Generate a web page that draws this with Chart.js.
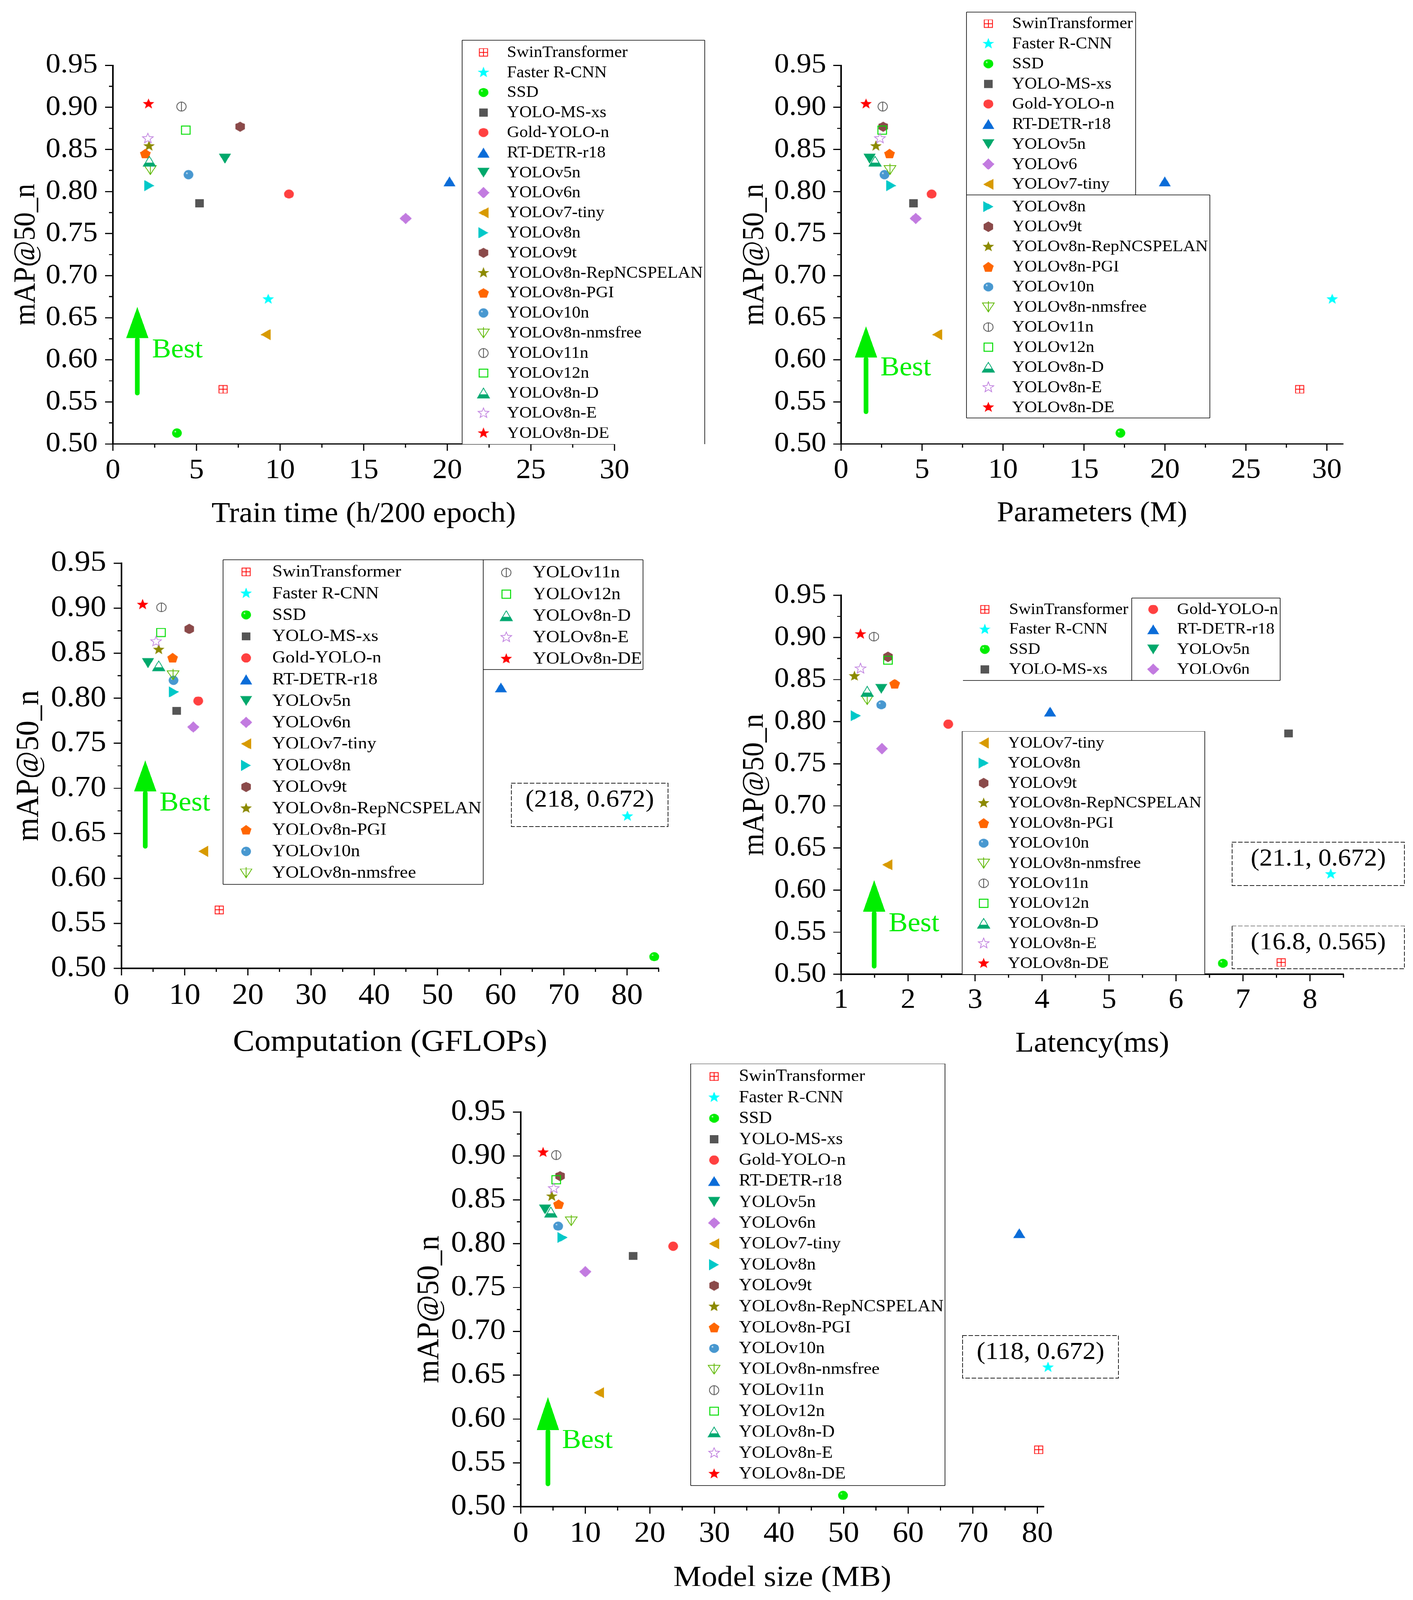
<!DOCTYPE html>
<html><head><meta charset="utf-8">
<script src="https://cdn.jsdelivr.net/npm/chart.js@4.4.1/dist/chart.umd.min.js"></script>
<style>
html,body{margin:0;padding:0;background:#fff;}
html{overflow:hidden;}
body{width:3617px;height:4375px;position:relative;overflow:hidden;transform-origin:0 0;}
canvas{position:absolute;}
</style></head><body>
<canvas id="c1"></canvas><canvas id="c2"></canvas><canvas id="c3"></canvas><canvas id="c4"></canvas><canvas id="c5"></canvas>
<script>
// fit the full 3617x4375 figure into the actual viewport height if the window is shorter
(function(){ const s = Math.min(1, (window.innerHeight || 4375) / 4375); if (s < 1) document.body.style.transform = 'scaleY(' + s + ')'; })();

// ---------------- DATA ----------------
const models = ['SwinTransformer','Faster R-CNN','SSD','YOLO-MS-xs','Gold-YOLO-n','RT-DETR-r18','YOLOv5n','YOLOv6n','YOLOv7-tiny','YOLOv8n','YOLOv9t','YOLOv8n-RepNCSPELAN','YOLOv8n-PGI','YOLOv10n','YOLOv8n-nmsfree','YOLOv11n','YOLOv12n','YOLOv8n-D','YOLOv8n-E','YOLOv8n-DE'];

const xTrainTime  = [6.59, 9.29, 3.83, 5.18, 10.53, 20.13, 6.70, 17.51, 9.13, 2.18, 7.61, 2.16, 1.94, 4.52, 2.24, 4.10, 4.36, 2.18, 2.09, 2.13];
const yTrainTime  = [0.565, 0.672, 0.513, 0.786, 0.797, 0.812, 0.839, 0.768, 0.630, 0.807, 0.877, 0.854, 0.845, 0.820, 0.826, 0.901, 0.873, 0.836, 0.863, 0.904];

const xParams     = [28.32, 30.33, 17.25, 4.47, 5.59, 19.99, 1.76, 4.61, 5.93, 3.10, 2.60, 2.15, 2.99, 2.68, 3.02, 2.57, 2.54, 2.10, 2.40, 1.54];
const yParams     = [0.565, 0.672, 0.513, 0.786, 0.797, 0.812, 0.839, 0.768, 0.630, 0.807, 0.877, 0.854, 0.845, 0.820, 0.826, 0.901, 0.873, 0.836, 0.863, 0.904];

const xGflops     = [15.47, 80.06, 84.30, 8.73, 12.14, 60.04, 4.19, 11.36, 12.92, 8.30, 10.72, 5.89, 8.09, 8.23, 8.16, 6.32, 6.25, 5.89, 5.47, 3.34];
const yGflops     = [0.565, 0.669, 0.513, 0.786, 0.797, 0.812, 0.839, 0.768, 0.630, 0.807, 0.877, 0.854, 0.845, 0.820, 0.826, 0.901, 0.873, 0.836, 0.863, 0.904];

const xLatency    = [7.57, 8.31, 6.70, 7.68, 2.60, 4.12, 1.60, 1.61, 1.69, 1.22, 1.70, 1.20, 1.80, 1.60, 1.39, 1.49, 1.70, 1.39, 1.29, 1.29];
const yLatency    = [0.514, 0.619, 0.513, 0.786, 0.797, 0.812, 0.839, 0.768, 0.630, 0.807, 0.877, 0.854, 0.845, 0.820, 0.826, 0.901, 0.873, 0.836, 0.863, 0.904];

const xModelSize  = [80.2, 81.65, 49.9, 17.4, 23.6, 77.2, 3.76, 10.0, 12.1, 6.47, 6.09, 4.81, 5.86, 5.79, 7.82, 5.49, 5.49, 4.66, 5.11, 3.46];
const yModelSize  = [0.565, 0.659, 0.513, 0.786, 0.797, 0.812, 0.839, 0.768, 0.630, 0.807, 0.877, 0.854, 0.845, 0.820, 0.826, 0.901, 0.873, 0.836, 0.863, 0.904];

const yTicks        = [0.50, 0.55, 0.60, 0.65, 0.70, 0.75, 0.80, 0.85, 0.90, 0.95];
const xTicksTrain   = [0, 5, 10, 15, 20, 25, 30];
const xTicksParams  = [0, 5, 10, 15, 20, 25, 30];
const xTicksGflops  = [0, 10, 20, 30, 40, 50, 60, 70, 80];
const xTicksLatency = [1, 2, 3, 4, 5, 6, 7, 8];
const xTicksSize    = [0, 10, 20, 30, 40, 50, 60, 70, 80];

const offScaleNotes3 = ['(218, 0.672)'];
const offScaleNotes4 = ['(21.1, 0.672)', '(16.8, 0.565)'];
const offScaleNotes5 = ['(118, 0.672)'];

// ---------------- STYLE ----------------
const FONT = "'Liberation Serif','Times New Roman',serif";
const colors = ['#ff0000','#00ffff','#00ee00','#555555','#ff4040','#0a6cd8','#00a86b','#c27be0','#d89a00','#00c8c8','#8b4a4a','#8c8a00','#ff6600','#4898d0','#5cb800','#505050','#00dd00','#00a870','#bb77dd','#ff0000'];
const shapes = ['sqcross','star','sphere','square','circle','triUp','triDown','diamond','triLeft','triRight','hex','star','pent','sphere','triDownLine','circleLine','squareOpen','triHalf','starOpen','star'];

function starPts(R, r){ const p=[]; for(let k=0;k<10;k++){const a=-Math.PI/2+k*Math.PI/5; const rr=(k%2)?r:R; p.push([rr*Math.cos(a), rr*Math.sin(a)]);} return p; }
function regPts(n, R){ const p=[]; for(let k=0;k<n;k++){const a=-Math.PI/2+k*2*Math.PI/n; p.push([R*Math.cos(a), R*Math.sin(a)]);} return p; }
function path(g, pts){ g.beginPath(); pts.forEach((p,i)=> i? g.lineTo(p[0],p[1]) : g.moveTo(p[0],p[1])); g.closePath(); }

function makeMarker(shape, color){
  const S=44; const c=document.createElement('canvas'); c.width=S; c.height=S;
  const g=c.getContext('2d'); g.translate(S/2,S/2);
  g.fillStyle=color; g.strokeStyle=color; g.lineJoin='miter';
  switch(shape){
    case 'sqcross': g.lineWidth=2; g.strokeRect(-10.5,-10.5,21,21); g.beginPath(); g.moveTo(0,-10.5); g.lineTo(0,10.5); g.moveTo(-10.5,0); g.lineTo(10.5,0); g.stroke(); break;
    case 'star': path(g, starPts(15.5,6.6)); g.fill(); break;
    case 'starOpen': g.lineWidth=1.8; path(g, starPts(14.5,6.2)); g.stroke(); break;
    case 'sphere': {
      const gr=g.createRadialGradient(-4.5,-4.5,0,-2,-2,14);
      gr.addColorStop(0,'#ffffff'); gr.addColorStop(0.22,color); gr.addColorStop(1,color);
      g.fillStyle=gr; g.beginPath(); g.arc(0,0,12.5,0,Math.PI*2); g.fill(); break; }
    case 'square': g.fillRect(-11,-11,22,22); break;
    case 'squareOpen': g.lineWidth=2.5; g.strokeRect(-11,-11,22,22); break;
    case 'circle': g.beginPath(); g.arc(0,0,12.5,0,Math.PI*2); g.fill(); break;
    case 'circleLine': g.lineWidth=2; g.beginPath(); g.arc(0,0,12,0,Math.PI*2); g.stroke(); g.beginPath(); g.moveTo(0,-12); g.lineTo(0,12); g.stroke(); break;
    case 'triUp': path(g, [[0,-13.5],[15.5,13.5],[-15.5,13.5]]); g.fill(); break;
    case 'triDown': path(g, [[-15.5,-13.5],[15.5,-13.5],[0,13.5]]); g.fill(); break;
    case 'triLeft': path(g, [[-13,0],[13,-15],[13,15]]); g.fill(); break;
    case 'triRight': path(g, [[13,0],[-13,-15],[-13,15]]); g.fill(); break;
    case 'diamond': path(g, [[0,-15.5],[15.5,0],[0,15.5],[-15.5,0]]); g.fill(); break;
    case 'hex': path(g, regPts(6,14)); g.fill(); break;
    case 'pent': g.translate(0,1.3); path(g, regPts(5,14.5)); g.fill(); break;
    case 'triDownLine': g.lineWidth=2; path(g, [[-15,-11],[15,-11],[0,13]]); g.stroke(); g.beginPath(); g.moveTo(0,-16); g.lineTo(0,13); g.stroke(); break;
    case 'triHalf': {
      const pts=[[0,-13.5],[15.5,13.5],[-15.5,13.5]];
      g.save(); path(g,pts); g.clip(); g.fillRect(-17,3.5,34,11); g.restore();
      g.lineWidth=2; path(g,pts); g.stroke(); break; }
  }
  return c;
}
const markers = shapes.map((s,i)=>makeMarker(s, colors[i]));

function rng(a,b){ const r=[]; for(let i=a;i<=b;i++) r.push(i); return r; }

// ---------------- LAYOUT SPECS (page pixels) ----------------
const specs = [
 { id:'c1', rect:{x:0,y:0,w:1815,h:1460}, area:{l:289,t:178.5,r:1573,b:1214},
   xmin:0, xmax:30, xs:xTrainTime, ys:yTrainTime, xTicks:xTicksTrain, step:5,
   tickSize:76, titleSize:78, xTitle:'Train time (h/200 epoch)', yTitleMid:67.7, xTitleMid:1406.7, yLabPad:39, xLabOff:73,
   best:{x:1.46,y0:0.5603,y1:0.6627,yb:0.6258,tx:2.34,ty:0.603},
   legend:{font:44, boxes:[{l:1183,t:110,r:1804,b:1214,sides:'tlr'}], cols:[{items:rng(0,19),y0:143.3,dy:54.8,mx:1237.6,tx:1297.8}]},
   notes:[] },
 { id:'c2', rect:{x:1815,y:0,w:1802,h:1460}, area:{l:2153,t:178.5,r:3438,b:1214},
   xmin:0, xmax:31, xs:xParams, ys:yParams, xTicks:xTicksParams, step:5,
   tickSize:76, titleSize:78, xTitle:'Parameters (M)', yTitleMid:1933, xTitleMid:1405, yLabPad:38, xLabOff:72.5,
   best:{x:1.54,y0:0.5382,y1:0.6398,yb:0.6029,tx:2.43,ty:0.5816},
   legend:{font:44, names:{7:'YOLOv6'}, boxes:[{l:2474,t:33,r:2907,b:533,sides:'tlr'},{l:2474,t:533,r:3097,b:1143,sides:'tlrb'}],
           cols:[{items:rng(0,8),y0:64.7,dy:54.9,mx:2530,tx:2591},{items:rng(9,19),y0:565,dy:54.9,mx:2530,tx:2591}]},
   notes:[] },
 { id:'c3', rect:{x:0,y:1460,w:1800,h:1450}, area:{l:311,t:1540,r:1686,b:2648},
   xmin:0, xmax:85, xs:xGflops, ys:yGflops, xTicks:xTicksGflops, step:10,
   tickSize:81, titleSize:83, xTitle:'Computation (GFLOPs)', yTitleMid:75, xTitleMid:2851, yLabPad:39, xLabOff:75.5,
   best:{x:3.76,y0:0.6354,y1:0.731,yb:0.6966,tx:6.03,ty:0.6756},
   legend:{font:47, boxes:[{l:571,t:1531,r:1237,b:2418,sides:'tlrb'},{l:1237,t:1531,r:1646,b:1831,sides:'tlrb'}],
           cols:[{items:rng(0,14),y0:1563.7,dy:58.8,mx:630,tx:697},{items:rng(15,19),y0:1565.6,dy:59,mx:1296,tx:1364}]},
   notes:[{l:1309,t:2142,r:1710,b:2260,text:offScaleNotes3[0]}] },
 { id:'c4', rect:{x:1800,y:1460,w:1817,h:1450}, area:{l:2153,t:1628,r:3439,b:2664},
   xmin:1, xmax:8.5, xs:xLatency, ys:yLatency, xTicks:xTicksLatency, step:1,
   tickSize:76, titleSize:78, xTitle:'Latency(ms)', yTitleMid:1933, xTitleMid:2855, yLabPad:38, xLabOff:72,
   best:{x:1.494,y0:0.5093,y1:0.6117,yb:0.5743,tx:1.71,ty:0.5514},
   legend:{font:43.5, boxes:[{l:2465,t:1635,r:3277,b:1861,sides:''},{l:2463,t:2000,r:3084,b:2664,sides:'tlr'}],
           lines:[[2465,1861,3277,1861],[2897,1635,2897,1861],[2897,1635,3277,1635],[3277,1635,3277,1861]],
           cols:[{items:rng(0,3),y0:1666.4,dy:54.6,mx:2521,tx:2583},{items:rng(4,7),y0:1666.4,dy:54.6,mx:2952,tx:3013},{items:rng(8,19),y0:2031.6,dy:54.8,mx:2518,tx:2580}]},
   notes:[{l:3154,t:2303,r:3595,b:2421,text:offScaleNotes4[0]},{l:3154,t:2532,r:3595,b:2649,text:offScaleNotes4[1]}] },
 { id:'c5', rect:{x:950,y:2880,w:1950,h:1495}, area:{l:1333,t:3041,r:2672,b:4120},
   xmin:0, xmax:81, xs:xModelSize, ys:yModelSize, xTicks:xTicksSize, step:10,
   tickSize:80, titleSize:81, xTitle:'Model size (MB)', yTitleMid:1100.7, xTitleMid:4315.7, yLabPad:38.5, xLabOff:75,
   best:{x:4.21,y0:0.526,y1:0.625,yb:0.5876,tx:6.39,ty:0.5673},
   legend:{font:46, boxes:[{l:1768,t:2909,r:2419,b:4062,sides:'tlrb'}], cols:[{items:rng(0,19),y0:2943.4,dy:57.2,mx:1828,tx:1891.5}]},
   notes:[{l:2464,t:3652,r:2863,b:3768,text:offScaleNotes5[0]}] }
];

// ---------------- DECOR PLUGIN ----------------
function decorPlugin(sp){
  return { id:'decor'+sp.id, afterDraw(chart){
    const g=chart.ctx, xs=chart.scales.x, ys=chart.scales.y, ox=sp.rect.x, oy=sp.rect.y;
    const A=chart.chartArea;
    g.save();
    g.strokeStyle='#000'; g.lineWidth=3; g.lineCap='butt';
    g.beginPath();
    yTicks.forEach((v,i)=>{ const p=ys.getPixelForValue(v); g.moveTo(A.left,p); g.lineTo(A.left-20,p);
      if(i<yTicks.length-1){ const q=ys.getPixelForValue(v+0.025); g.moveTo(A.left,q); g.lineTo(A.left-10,q);} });
    sp.xTicks.forEach(v=>{ const p=xs.getPixelForValue(v); g.moveTo(p,A.bottom); g.lineTo(p,A.bottom+19);
      if(v+sp.step/2<=sp.xmax+1e-9){ const q=xs.getPixelForValue(v+sp.step/2); g.moveTo(q,A.bottom); g.lineTo(q,A.bottom+10);} });
    g.stroke();
    const b=sp.best, bx=xs.getPixelForValue(b.x), by0=ys.getPixelForValue(b.y0), by1=ys.getPixelForValue(b.y1), byb=ys.getPixelForValue(b.yb);
    g.strokeStyle='#00ee00'; g.fillStyle='#00ee00'; g.lineWidth=12; g.lineCap='round';
    g.beginPath(); g.moveTo(bx,by0); g.lineTo(bx,byb+4); g.stroke();
    g.beginPath(); g.moveTo(bx,by1); g.lineTo(bx+28.5,byb); g.lineTo(bx-28.5,byb); g.closePath(); g.fill();
    g.font='73px '+FONT; g.textAlign='left'; g.textBaseline='alphabetic';
    g.fillText('Best', xs.getPixelForValue(b.tx), ys.getPixelForValue(b.ty));
    sp.notes.forEach(n=>{
      g.setLineDash([10,6]); g.lineWidth=2; g.strokeStyle='#222';
      g.strokeRect(n.l-ox, n.t-oy, n.r-n.l, n.b-n.t); g.setLineDash([]);
      g.fillStyle='#000'; g.font='67px '+FONT; g.textAlign='center'; g.textBaseline='alphabetic';
      g.fillText(n.text, (n.l+n.r)/2-ox, n.t+64-oy);
    });
    const L=sp.legend;
    L.boxes.forEach(bx2=>{ g.fillStyle='#fff'; g.fillRect(bx2.l-ox, bx2.t-oy, bx2.r-bx2.l, bx2.b-bx2.t); });
    g.strokeStyle='#000'; g.lineWidth=1.6; g.lineCap='butt'; g.beginPath();
    L.boxes.forEach(q=>{
      const l=q.l-ox,t=q.t-oy,r=q.r-ox,bb=q.b-oy;
      if(q.sides.includes('t')){g.moveTo(l,t);g.lineTo(r,t);}
      if(q.sides.includes('l')){g.moveTo(l,t);g.lineTo(l,bb);}
      if(q.sides.includes('r')){g.moveTo(r,t);g.lineTo(r,bb);}
      if(q.sides.includes('b')){g.moveTo(l,bb);g.lineTo(r,bb);}
    });
    (L.lines||[]).forEach(s=>{ g.moveTo(s[0]-ox,s[1]-oy); g.lineTo(s[2]-ox,s[3]-oy); });
    g.stroke();
    g.fillStyle='#000'; g.font=L.font+'px '+FONT; g.textAlign='left'; g.textBaseline='middle';
    L.cols.forEach(c=>{
      c.items.forEach((idx,k)=>{
        const y=c.y0+k*c.dy-oy;
        const m=markers[idx];
        g.drawImage(m, c.mx-ox-m.width/2, y-m.height/2);
        const name=(L.names && L.names[idx]) || models[idx];
        g.fillText(name, c.tx-ox, y+1);
      });
    });
    g.restore();
  }};
}

// ---------------- BUILD ----------------
function build(sp){
  const cv=document.getElementById(sp.id); const R=sp.rect, A=sp.area;
  cv.width=R.w; cv.height=R.h; cv.style.left=R.x+'px'; cv.style.top=R.y+'px'; cv.style.width=R.w+'px'; cv.style.height=R.h+'px';
  const yW=A.l-R.x, xH=R.y+R.h-A.b;
  const datasets=models.map((m,i)=>({label:m, data:[{x:sp.xs[i], y:sp.ys[i]}], pointStyle:markers[i], pointRadius:13, pointHoverRadius:13, order:models.length-i, clip:false}));
  new Chart(cv,{
    type:'scatter',
    data:{datasets},
    options:{
      responsive:false, maintainAspectRatio:false, animation:false, devicePixelRatio:1, events:[],
      layout:{padding:{left:0, top:A.t-R.y, right:R.x+R.w-A.r, bottom:0}},
      plugins:{legend:{display:false}, tooltip:{enabled:false}},
      scales:{
        x:{type:'linear', position:'bottom', min:sp.xmin, max:sp.xmax,
          afterBuildTicks:s=>{ s.ticks=sp.xTicks.map(v=>({value:v})); },
          afterFit:s=>{ s.height=xH; s.paddingLeft=0; s.paddingRight=0; s.paddingTop=0; s.paddingBottom=0; },
          grid:{display:false, drawTicks:false},
          border:{display:true, color:'#000', width:4},
          ticks:{autoSkip:false, maxRotation:0, minRotation:0, color:'#000', font:{family:FONT, size:sp.tickSize}, padding:sp.xLabOff-0.6*sp.tickSize, callback:v=>String(v)},
          title:{display:true, text:sp.xTitle, color:'#000', font:{family:FONT, size:sp.titleSize}, padding:{top:0, bottom:R.h-0.6*sp.titleSize-(sp.xTitleMid-R.y)}}
        },
        y:{type:'linear', position:'left', min:0.5, max:0.95,
          afterBuildTicks:s=>{ s.ticks=yTicks.map(v=>({value:v})); },
          afterFit:s=>{ s.width=yW; s.paddingTop=0; s.paddingBottom=0; s.paddingLeft=0; s.paddingRight=0; },
          grid:{display:false, drawTicks:false},
          border:{display:true, color:'#000', width:4},
          ticks:{autoSkip:false, color:'#000', font:{family:FONT, size:sp.tickSize}, padding:sp.yLabPad, callback:v=>Number(v).toFixed(2)},
          title:{display:true, text:'mAP@50_n', color:'#000', font:{family:FONT, size:sp.titleSize}, padding:{top:sp.yTitleMid-R.x-0.6*sp.titleSize, bottom:0}}
        }
      }
    },
    plugins:[decorPlugin(sp)]
  });
}
function go(){ specs.forEach(build); }
if(document.fonts && document.fonts.load){
  Promise.race([Promise.all([document.fonts.load("76px 'Liberation Serif'")]), new Promise(r=>setTimeout(r,1500))]).then(go, go);
} else go();
</script>
</body></html>
